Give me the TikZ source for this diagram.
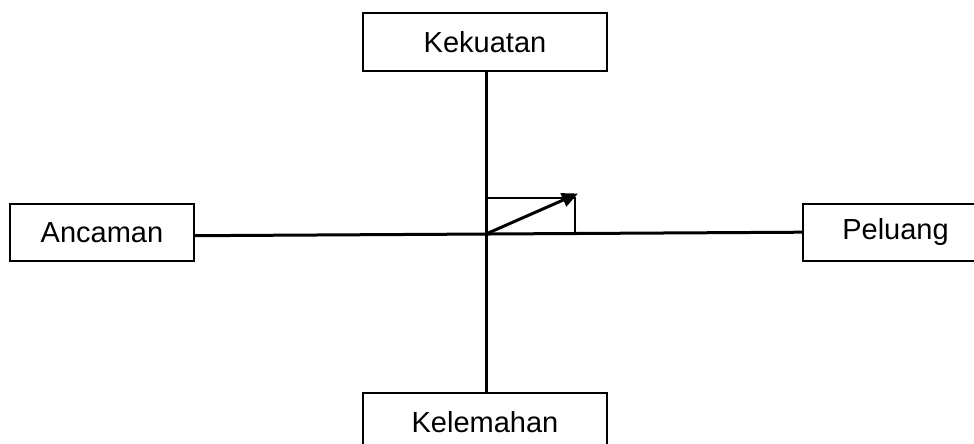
\documentclass[tikz,border=0pt]{standalone}
\usepackage{fontspec}
\setmainfont{Liberation Sans}
\usetikzlibrary{arrows.meta}
\begin{document}
\begin{tikzpicture}[x=1pt,y=-1pt,
  label box/.style={draw=black, line width=2pt, fill=white, inner sep=0pt,
    font=\fontsize{29}{34}\selectfont},
  axis/.style={line width=3pt},
  guide/.style={line width=2pt},
  vector/.style={line width=3pt, -{Triangle[length=16pt,width=14pt]}}]
  \useasboundingbox (0,0) rectangle (974,444);
  \clip (0,0) rectangle (974,444);

  % quadrant labels
  \node[label box, minimum width=244pt, minimum height=58pt] (kekuatan) at (485,42) {Kekuatan};
  \node[label box, minimum width=184pt, minimum height=57pt] (ancaman) at (102,232.5) {Ancaman};
  \node[label box, minimum width=185pt, minimum height=57pt] (peluang) at (895.5,232.5) {Peluang};
  \node[label box, minimum width=244pt, minimum height=58pt] (kelemahan) at (485,422) {Kelemahan};

  % axes
  \draw[axis] (kekuatan.south -| 486,0) -- (kelemahan.north -| 486,0);
  \draw[axis] ([yshift=-3.2pt]ancaman.east) -- ([yshift=0.3pt]peluang.west);

  % position vector in the first quadrant
  \coordinate (origin) at (486,234);
  \coordinate (corner) at (575,197.5);
  \coordinate (tip) at (578,193.5);
  \draw[guide] (origin) |- (corner) -- (corner |- origin);
  \draw[vector] (origin) -- (tip);
\end{tikzpicture}
\end{document}
